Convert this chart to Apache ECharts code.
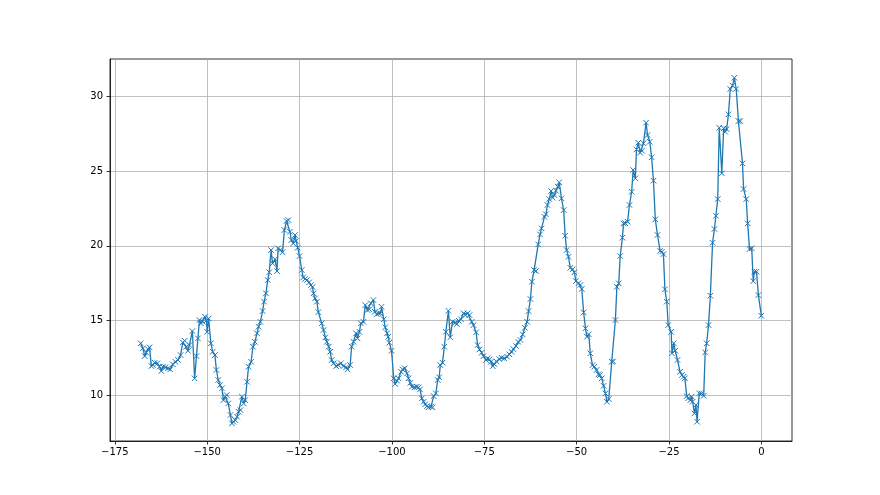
<!DOCTYPE html>
<html>
<head>
<meta charset="utf-8">
<script src="https://cdn.jsdelivr.net/npm/echarts@6/dist/echarts.min.js"></script>
<style>
html,body{margin:0;padding:0;background:#fff;}
#chart{width:880px;height:495px;}
</style>
</head>
<body>
<div id="chart"></div>
<script>
const xTicks = [-175, -150, -125, -100, -75, -50, -25, 0];
const yTicks = [10, 15, 20, 25, 30];

const xs = [
-168.0,-167.4,-166.9,-166.5,-166.0,-165.6,-165.1,-164.7,-164.2,-163.5,
-162.9,-162.4,-162.0,-161.3,-160.6,-160.0,-159.3,-158.6,-157.9,-157.2,
-156.6,-156.1,-155.7,-155.2,-154.8,-154.0,-153.4,-152.9,-152.5,-152.1,
-151.7,-151.2,-150.6,-150.2,-150.0,-149.6,-149.0,-148.5,-147.9,-147.5,
-147.0,-146.5,-146.0,-145.6,-145.1,-144.7,-144.3,-143.7,-143.3,-142.9,
-142.4,-141.9,-141.5,-141.0,-140.6,-140.1,-139.7,-139.2,-138.8,-138.1,
-137.6,-137.1,-136.5,-136.1,-135.6,-135.0,-134.6,-134.1,-133.6,-133.2,
-132.7,-132.3,-131.6,-131.1,-130.8,-130.2,-129.6,-129.1,-128.5,-128.0,
-127.6,-127.2,-126.7,-126.2,-125.9,-125.5,-125.0,-124.4,-124.0,-123.5,
-123.0,-122.4,-121.9,-121.5,-121.2,-120.8,-120.3,-119.9,-119.0,-118.5,
-118.0,-117.6,-117.1,-116.7,-116.3,-115.8,-115.1,-114.5,-113.8,-113.1,
-112.4,-112.0,-111.3,-110.9,-110.4,-109.7,-109.3,-108.8,-108.4,-107.7,
-107.2,-106.6,-106.1,-105.7,-105.0,-104.6,-104.1,-103.6,-103.1,-102.8,
-102.2,-101.8,-101.3,-101.0,-100.7,-100.1,-99.5,-99.1,-98.6,-98.2,
-97.5,-97.1,-96.5,-95.9,-95.5,-95.0,-94.6,-93.9,-93.3,-92.8,
-92.4,-91.9,-91.4,-91.0,-90.5,-90.1,-89.4,-89.0,-88.7,-88.1,
-87.6,-87.2,-86.9,-86.3,-85.8,-85.4,-84.7,-84.2,-83.6,-82.9,
-82.4,-81.9,-81.3,-80.6,-80.1,-79.5,-79.0,-78.4,-77.9,-77.2,
-76.8,-76.3,-75.7,-75.2,-74.5,-74.1,-73.6,-73.2,-72.7,-72.3,
-71.7,-70.9,-70.3,-69.6,-68.8,-68.2,-67.6,-67.1,-66.4,-65.8,
-65.2,-64.6,-64.0,-63.4,-63.0,-62.5,-62.1,-61.5,-61.0,-60.4,
-59.9,-59.5,-58.7,-58.3,-57.9,-57.4,-56.9,-56.5,-56.0,-55.6,
-55.1,-54.7,-54.1,-53.5,-53.1,-52.7,-52.2,-51.7,-51.1,-50.6,
-50.2,-49.5,-49.0,-48.6,-48.1,-47.6,-47.2,-46.7,-46.3,-45.7,
-45.2,-44.6,-44.1,-43.7,-43.2,-42.7,-42.2,-41.8,-41.3,-40.5,
-40.1,-39.5,-39.1,-38.6,-38.2,-37.6,-37.3,-36.8,-36.2,-35.7,
-35.1,-34.7,-34.1,-33.8,-33.3,-32.8,-32.3,-31.9,-31.2,-30.8,
-30.2,-29.7,-29.2,-28.7,-28.1,-27.4,-26.9,-26.5,-26.1,-25.6,
-25.2,-24.4,-24.2,-23.7,-23.3,-22.7,-22.0,-21.5,-21.0,-20.7,
-20.2,-19.8,-19.2,-18.9,-18.6,-18.1,-17.7,-17.4,-16.8,-16.2,
-15.6,-15.2,-14.8,-14.3,-13.8,-13.2,-12.7,-12.3,-11.8,-11.4,
-10.7,-10.2,-9.8,-9.4,-8.9,-8.4,-7.8,-7.3,-6.8,-6.2,
-5.7,-5.1,-4.8,-4.1,-3.7,-3.2,-2.6,-2.2,-1.9,-1.3,
-0.8,0.0
];

const ys = [
13.47,13.13,12.61,12.84,13.06,13.20,11.94,12.01,12.17,12.13,
11.90,11.61,11.90,11.86,11.79,11.72,12.06,12.23,12.35,12.68,
13.53,13.64,13.24,12.97,13.35,14.29,11.12,12.61,13.80,15.03,
14.81,14.91,15.25,15.00,14.24,15.13,13.47,12.90,12.68,11.68,
11.01,10.67,10.45,9.66,9.89,10.00,9.44,8.66,8.10,8.21,
8.32,8.55,8.88,8.99,9.89,9.44,9.66,10.89,11.90,12.23,
13.24,13.57,14.14,14.58,14.91,15.63,16.26,16.82,17.71,18.23,
19.72,18.83,19.10,18.31,19.84,19.72,19.57,21.06,21.67,21.73,
20.95,20.39,20.17,20.73,20.33,19.88,19.32,18.38,17.89,17.78,
17.71,17.56,17.38,17.24,16.82,16.48,16.26,15.56,14.81,14.36,
13.87,13.57,13.24,12.90,12.35,12.13,11.94,12.01,12.13,11.94,
11.86,11.72,12.01,13.24,13.57,14.14,13.80,14.24,14.81,14.91,
16.03,15.70,15.75,16.15,16.37,15.58,15.43,15.48,15.48,15.92,
15.08,14.54,14.14,13.91,13.51,12.97,11.12,10.74,10.96,11.12,
11.56,11.72,11.79,11.45,11.12,10.82,10.56,10.52,10.56,10.52,
10.38,9.78,9.55,9.38,9.26,9.18,9.22,9.18,9.93,10.11,
11.01,11.19,12.01,12.17,13.24,14.24,15.65,13.87,14.91,14.85,
14.76,14.98,15.08,15.48,15.36,15.48,15.36,14.91,14.69,14.20,
13.35,13.06,12.84,12.61,12.35,12.46,12.39,12.23,11.94,12.08,
12.25,12.41,12.50,12.46,12.57,12.73,12.90,13.08,13.29,13.57,
13.69,14.07,14.51,14.91,15.63,16.44,17.60,18.38,18.31,20.10,
20.77,21.18,21.95,22.12,22.74,23.14,23.68,23.23,23.41,23.71,
23.97,24.26,23.19,22.40,20.68,19.72,19.27,18.53,18.43,18.23,
17.64,17.49,17.38,17.11,15.54,14.47,13.91,14.07,12.80,12.01,
11.90,11.68,11.39,11.34,11.12,10.62,10.11,9.55,9.73,12.23,
12.26,15.03,17.26,17.49,19.32,20.55,21.51,21.51,21.62,22.74,
23.63,25.09,24.53,26.47,26.92,26.25,26.38,26.88,28.26,27.43,
26.98,25.94,24.37,21.78,20.73,19.67,19.61,19.45,17.09,16.26,
14.69,14.24,12.80,13.47,12.97,12.35,11.56,11.34,11.23,11.12,
9.93,9.78,9.66,9.89,9.55,8.77,9.33,8.21,10.11,10.11,
9.95,12.86,13.47,14.69,16.66,20.21,21.13,22.02,23.14,27.92,
24.86,27.88,27.65,27.83,28.82,30.52,30.74,31.27,30.52,28.37,
28.37,25.53,23.81,23.14,21.51,19.79,19.84,17.64,18.27,18.27,
16.70,15.32
];

const seriesData = xs.map((x, i) => [x, ys[i]]);

const chart = echarts.init(document.getElementById('chart'), null, {renderer: 'canvas'});
const labelStyle = {color: '#000', fontFamily: 'DejaVu Sans', fontSize: 10};
const fmt = v => String(v).replace('-', '\u2212');
chart.setOption({
  animation: false,
  backgroundColor: '#fff',
  grid: {left: 110, right: 88, top: 59, bottom: 54, show: true, borderColor: '#000', borderWidth: 0.8, backgroundColor: 'transparent'},
  xAxis: {
    type: 'value', min: -176.3, max: 8.3,
    axisLine: {show: true, onZero: false, lineStyle: {color: '#000', width: 0.8}},
    axisTick: {show: true, inside: false, length: 3.5, customValues: xTicks, lineStyle: {color: '#000', width: 0.8}},
    axisLabel: Object.assign({customValues: xTicks, margin: 6, formatter: fmt}, labelStyle),
    splitLine: {show: true, lineStyle: {color: '#b0b0b0', width: 0.8}}
  },
  yAxis: {
    type: 'value', min: 6.92, max: 32.53,
    axisLine: {show: true, onZero: false, lineStyle: {color: '#000', width: 0.8}},
    axisTick: {show: true, inside: false, length: 3.5, customValues: yTicks, lineStyle: {color: '#000', width: 0.8}},
    axisLabel: Object.assign({customValues: yTicks, margin: 7, formatter: fmt}, labelStyle),
    splitLine: {show: true, lineStyle: {color: '#b0b0b0', width: 0.8}}
  },
  series: [{
    type: 'line',
    data: seriesData,
    showSymbol: true,
    showAllSymbol: true,
    symbol: 'path://M0,0L10,10M0,10L10,0',
    symbolSize: 5.5,
    lineStyle: {color: '#1f77b4', width: 1.3},
    itemStyle: {color: 'rgba(0,0,0,0)', borderColor: '#1f77b4', borderWidth: 1},
    z: 3
  }]
});
</script>
</body>
</html>
